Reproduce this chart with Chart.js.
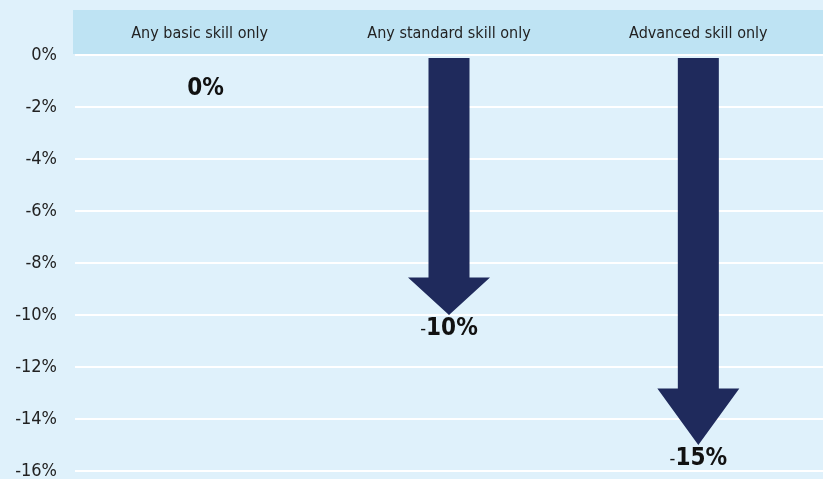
<!DOCTYPE html>
<html>
<head>
<meta charset="utf-8">
<script src="https://cdn.jsdelivr.net/npm/chart.js@4"></script>
<style>
    html, body { margin: 0; padding: 0; background: #dff1fb; }
    #wrap { width: 823px; height: 479px; }
</style>
</head>
<body>
<div id="wrap"><canvas id="chart"></canvas></div>
<script>
const categories = ['Any basic skill only', 'Any standard skill only', 'Advanced skill only'];
const changes = [0, -10, -15];
const yTicks = [0, -2, -4, -6, -8, -10, -12, -14, -16];

const FONT = '"Liberation Sans Narrow", "DejaVu Sans Condensed", "Roboto Condensed", sans-serif';
const ARROW = '#1f2a5c';

// draws the bars as down arrows, plus the value labels underneath
const arrowPlugin = {
    id: 'arrows',
    beforeDraw(chart) {
        const { ctx, chartArea } = chart;
        ctx.save();
        ctx.fillStyle = '#bee3f3';
        ctx.fillRect(chartArea.left - 2, 10, chart.width - chartArea.left + 2, chartArea.top - 11);
        ctx.restore();
    },
    afterDatasetsDraw(chart) {
        const { ctx } = chart;
        const meta = chart.getDatasetMeta(0);
        meta.data.forEach((bar, i) => {
            const top = bar.base + 2;
            const tip = bar.y;
            const len = tip - top;
            const half = bar.width / 2;
            ctx.save();
            if (len > 4) {
                const head = len * 0.146;
                ctx.fillStyle = ARROW;
                ctx.beginPath();
                ctx.moveTo(bar.x - half, top);
                ctx.lineTo(bar.x + half, top);
                ctx.lineTo(bar.x + half, tip - head);
                ctx.lineTo(bar.x + half * 2, tip - head);
                ctx.lineTo(bar.x, tip);
                ctx.lineTo(bar.x - half * 2, tip - head);
                ctx.lineTo(bar.x - half, tip - head);
                ctx.closePath();
                ctx.fill();
            }
            // label: regular minus, bold number
            const v = changes[i];
            const num = Math.abs(v) + '%';
            const minus = v < 0 ? '-' : '';
            const y = len > 4 ? tip + 14 : tip + 34;
            const x = len > 4 ? bar.x : bar.x + 6;
            ctx.fillStyle = '#111';
            ctx.textBaseline = 'middle';
            ctx.font = 'bold 24px ' + FONT;
            const wn = ctx.measureText(num).width;
            ctx.font = '18px ' + FONT;
            const wm = ctx.measureText(minus).width;
            const start = x - (wn + wm) / 2;
            ctx.textAlign = 'left';
            ctx.fillText(minus, start, y);
            ctx.font = 'bold 24px ' + FONT;
            ctx.fillText(num, start + wm, y);
            ctx.restore();
        });
    }
};

new Chart(document.getElementById('chart'), {
    type: 'bar',
    data: {
        labels: categories,
        datasets: [{
            data: changes,
            backgroundColor: 'rgba(0,0,0,0)',
            borderWidth: 0,
            barThickness: 41
        }]
    },
    options: {
        responsive: true,
        maintainAspectRatio: false,
        animation: false,
        layout: { padding: { top: 10, right: 0, bottom: 8, left: 0 } },
        plugins: {
            legend: { display: false },
            tooltip: { enabled: false }
        },
        scales: {
            x: {
                position: 'top',
                grid: { display: false },
                border: { display: false },
                ticks: {
                    color: '#222',
                    font: { family: FONT, size: 16 },
                    padding: 4
                },
                afterFit(scale) {
                    scale.height = 45;
                    scale.paddingLeft = 0;
                    scale.paddingRight = 0;
                }
            },
            y: {
                min: -16,
                max: 0,
                afterBuildTicks(scale) { scale.ticks = yTicks.map(v => ({ value: v })); },
                grid: { color: '#ffffff', lineWidth: 2, drawTicks: false },
                border: { display: false },
                ticks: {
                    color: '#222',
                    font: { family: FONT, size: 18 },
                    padding: 18,
                    callback: v => v + '%'
                },
                afterFit(scale) {
                    scale.width = 75;
                    scale.paddingTop = 0;
                    scale.paddingBottom = 0;
                }
            }
        }
    },
    plugins: [arrowPlugin]
});
</script>
</body>
</html>
